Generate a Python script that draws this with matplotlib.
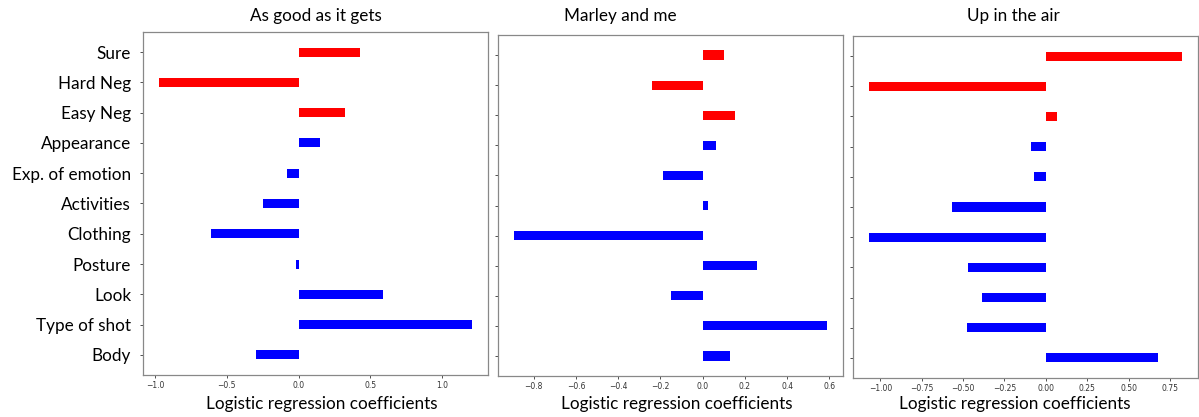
import matplotlib
matplotlib.use("Agg")
import matplotlib.pyplot as plt
import numpy as np

# category order from bottom to top
categories = ["Body", "Type of shot", "Look", "Posture", "Clothing", "Activities",
              "Exp. of emotion", "Appearance", "Easy Neg", "Hard Neg", "Sure"]

titles = ["As good as it gets", "Marley and me", "Up in the air"]

as_good = [-0.30, 1.21, 0.585, -0.02, -0.61, -0.245, -0.08, 0.15, 0.32, -0.975, 0.43]
marley = [0.131, 0.59, -0.149, 0.255, -0.895, 0.025, -0.188, 0.062, 0.152, -0.242, 0.10]
up_air = [0.679, -0.476, -0.385, -0.472, -1.067, -0.569, -0.069, -0.087, 0.069, -1.071, 0.825]

xticks = [
    [-1.0, -0.5, 0.0, 0.5, 1.0],
    [-0.8, -0.6, -0.4, -0.2, 0.0, 0.2, 0.4, 0.6],
    [-1.0, -0.75, -0.5, -0.25, 0.0, 0.25, 0.5, 0.75],
]
xtick_fmt = ["{:.1f}", "{:.1f}", "{:.2f}"]

red_cats = {"Sure", "Hard Neg", "Easy Neg"}
colors = ["#ff0000" if c in red_cats else "#0000ff" for c in categories]

W, H = 1199, 417
fig = plt.figure(figsize=(W / 100, H / 100), dpi=100)

label_font = ["Lato", "DejaVu Sans"]

# axes boxes in pixels: left, top, right, bottom
boxes = [(143, 32, 488, 375), (498, 35, 843, 376), (853, 36, 1198, 378)]
title_x = [316, 620, 1013]
xlabel_x = [322, 677, 1015]

y = np.arange(len(categories))
for i, vals in enumerate([as_good, marley, up_air]):
    l, t, r, b = boxes[i]
    ax = fig.add_axes([l / W, 1 - b / H, (r - l) / W, (b - t) / H])
    ax.barh(y, vals, height=0.3, color=colors)
    ax.set_xticks(xticks[i])
    ax.set_xticklabels([xtick_fmt[i].format(v).replace("-", "\u2212") for v in xticks[i]])
    ax.tick_params(axis="x", labelsize=5.5, length=2.5, width=0.6, pad=2,
                   colors="#333333")
    ax.tick_params(axis="y", length=2.5, width=0.6, colors="#333333")
    ax.set_yticks(y)
    if i == 0:
        ax.set_yticklabels(categories, family=label_font, fontsize=12.3, color="black")
        ax.tick_params(axis="y", pad=6)
    else:
        ax.set_yticklabels([])
    for s in ax.spines.values():
        s.set_color("#888888")
        s.set_linewidth(0.9)
    fig.text(title_x[i] / W, 1 - 16 / H, titles[i], ha="center", va="center",
             family=label_font, fontsize=12.3)
    fig.text(xlabel_x[i] / W, 1 - 404 / H, "Logistic regression coefficients",
             ha="center", va="center", family=label_font, fontsize=12.3)

fig.savefig("out.png", dpi=100)
